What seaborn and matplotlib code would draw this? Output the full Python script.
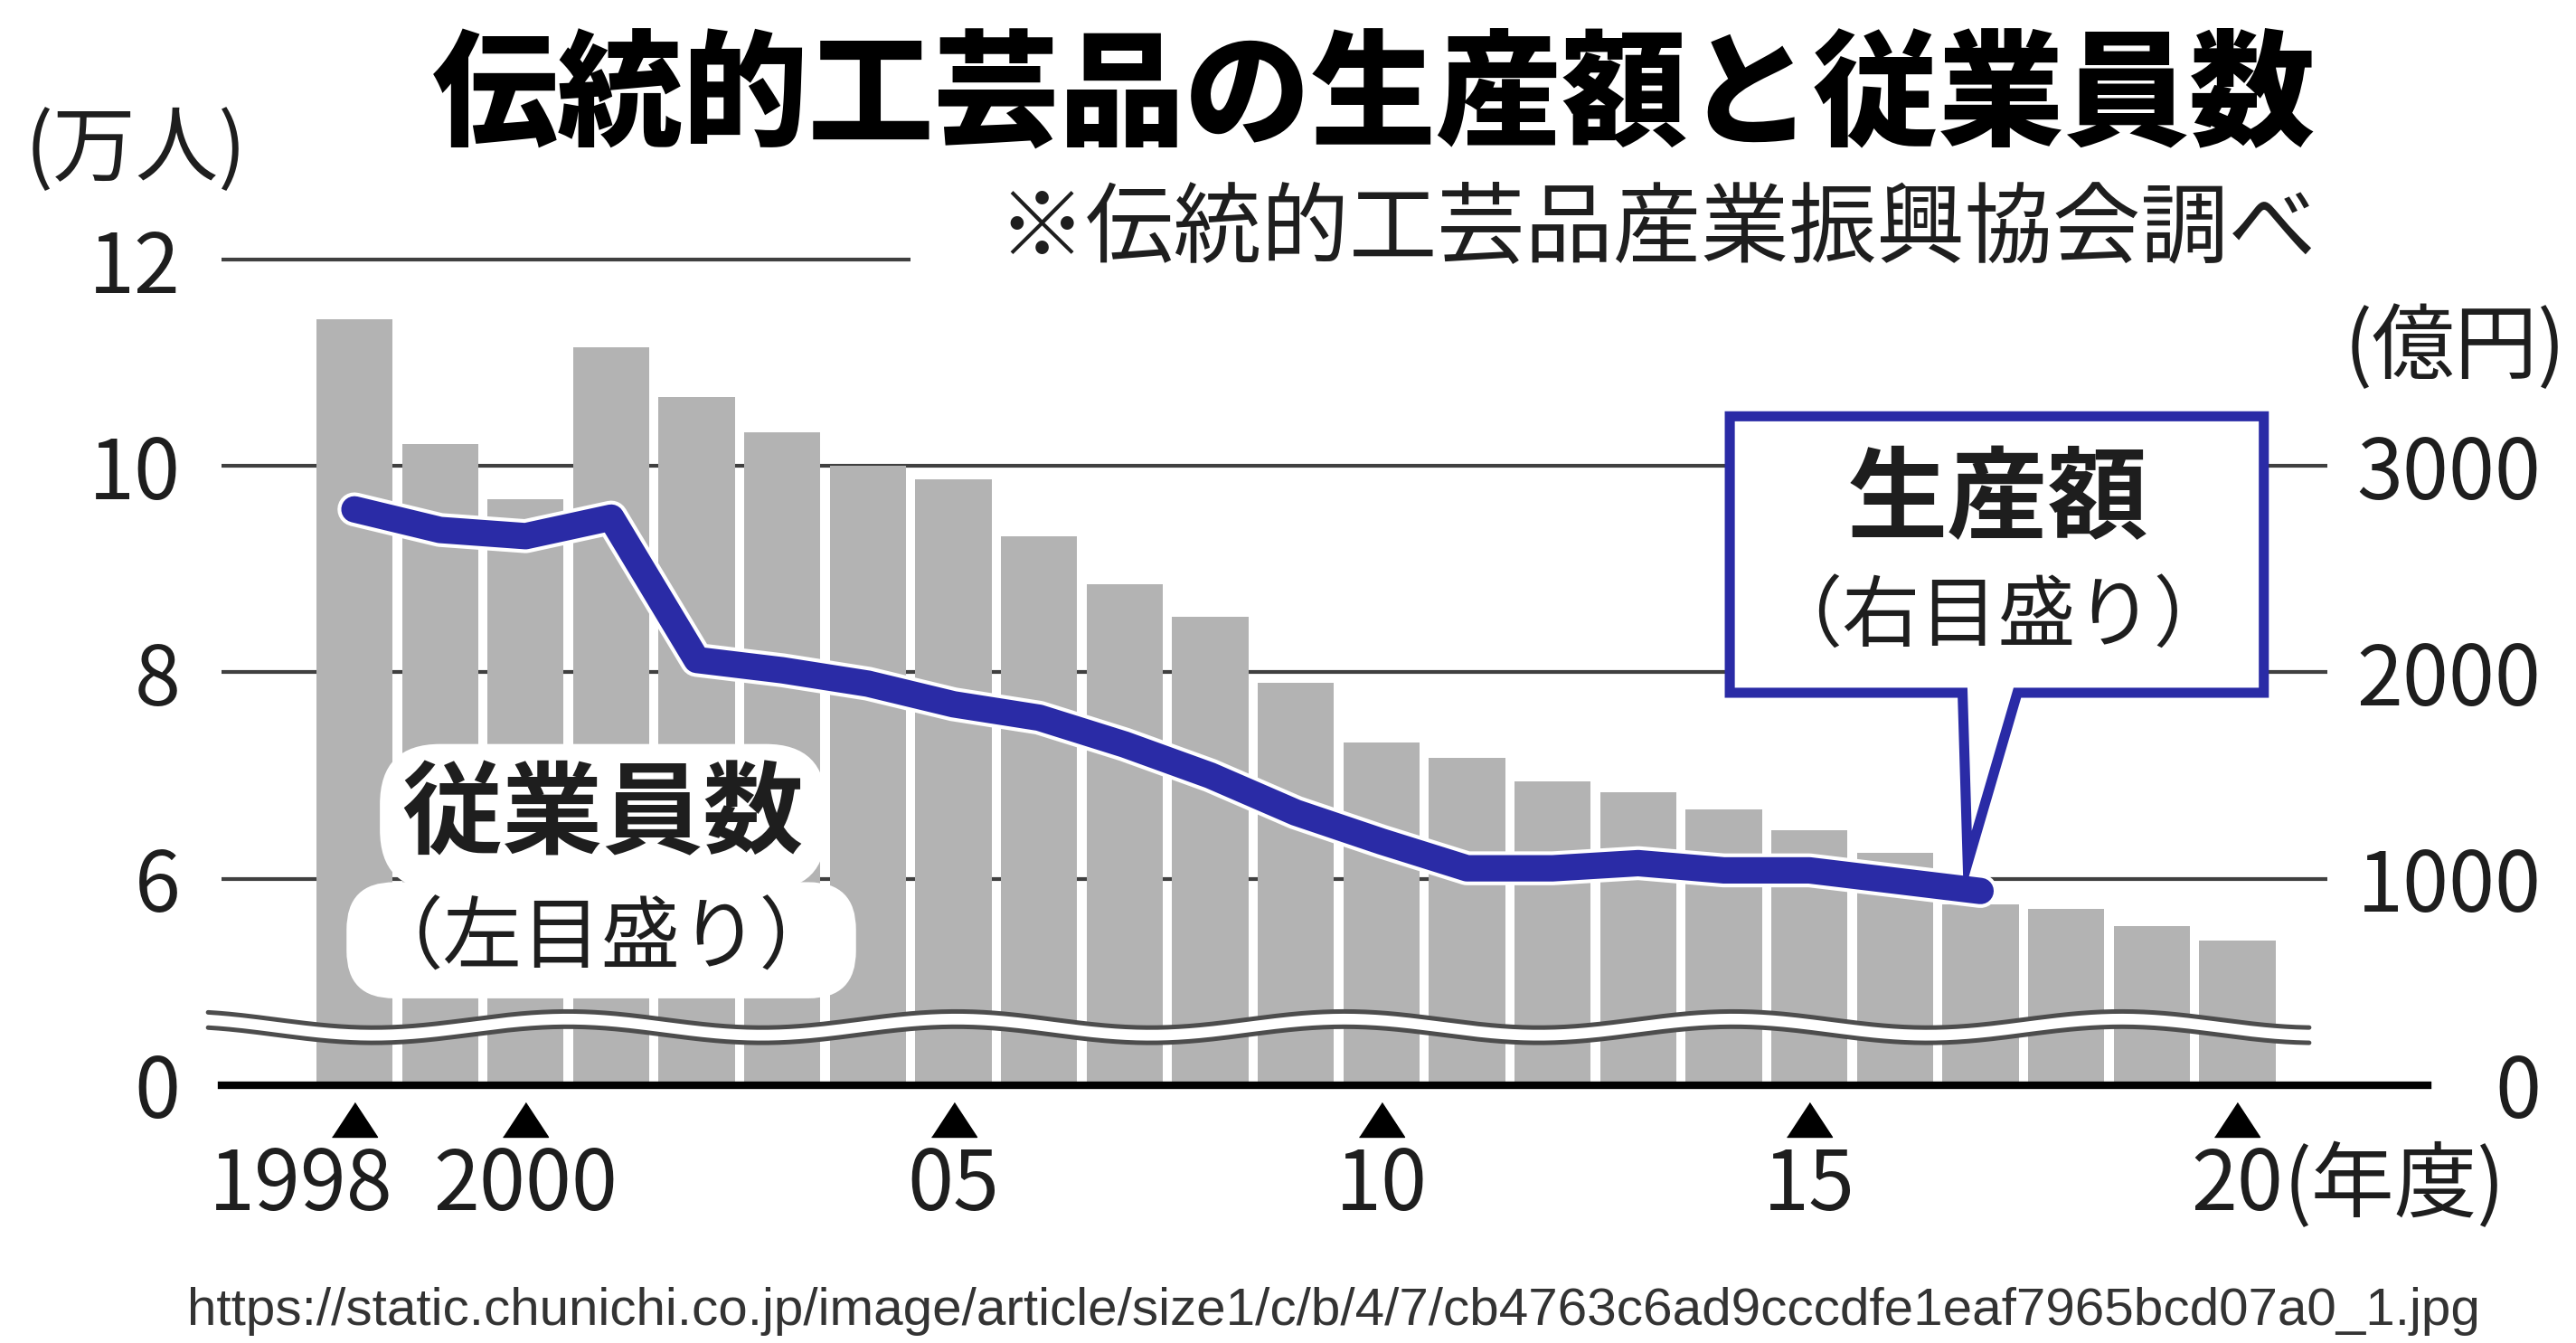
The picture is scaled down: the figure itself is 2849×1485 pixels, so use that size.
import numpy as np
import pandas as pd
import matplotlib
matplotlib.use("Agg")
import matplotlib.pyplot as plt
import matplotlib.patheffects as pe
from matplotlib.patches import Polygon
from matplotlib import font_manager
import seaborn as sns

# ---- data ----
years = list(range(1998, 2021))
# 従業員数（万人, 左目盛り）
employees = [11.42, 10.21, 9.68, 11.15, 10.67, 10.33, 10.00, 9.87, 9.32, 8.85,
             8.54, 7.90, 7.32, 7.17, 6.94, 6.84, 6.67, 6.47, 6.25, 5.75,
             5.71, 5.54, 5.40]
# 生産額（億円, 右目盛り）
prod_years = list(range(1998, 2018))
production = [2790, 2690, 2660, 2750, 2060, 2010, 1945, 1845, 1780, 1650,
              1500, 1320, 1180, 1050, 1050, 1075, 1040, 1040, 990, 940]

left_ticks = [0, 6, 8, 10, 12]
right_ticks = [0, 1000, 2000, 3000]
xtick_years = [1998, 2000, 2005, 2010, 2015, 2020]
xtick_labels = ["1998", "2000", "05", "10", "15", "20"]


def left_to_right(v):
    # left axis is broken between 0 and 6: 6->1000, 8->2000, 10->3000, 12->4000
    return 0 if v == 0 else (v - 4) * 500


BLUE = "#2a2ba6"
GRAY = "#b3b3b3"
GRID = "#404040"
INK = "#1e1e1e"

sns.set_theme(style="white")
JP = "Noto Sans CJK JP"
plt.rcParams["font.family"] = [JP, "DejaVu Sans"]
names = {f.name for f in font_manager.fontManager.ttflist}
NUM = "Liberation Sans Narrow" if "Liberation Sans Narrow" in names else JP
NUM_SIZE = 74 if NUM != JP else 66

# layout measured on a 1568x817 copy of the reference
W, H = 1568, 817
fig = plt.figure(figsize=(28.49, 14.85), dpi=100)
fig.patch.set_facecolor("white")
ax = fig.add_axes([135 / W, 1 - 660 / H, (1478 - 135) / W, (660 - 158) / H])

df = pd.DataFrame({"year": years, "emp": employees})
df["pos"] = [left_to_right(v) for v in df["emp"]]
sns.barplot(data=df, x="year", y="pos", native_scale=True, width=0.89,
            color=GRAY, saturation=1, errorbar=None, ax=ax, zorder=2,
            edgecolor="none", linewidth=0)

sns.lineplot(x=prod_years, y=production, ax=ax, color=BLUE, linewidth=21,
             solid_capstyle="round", solid_joinstyle="round", zorder=4,
             path_effects=[pe.Stroke(linewidth=27, foreground="white"), pe.Normal()])

x0, x1 = 1996.45, 2022.23
ax.set_xlim(x0, x1)
ax.set_ylim(0, 4000)
ax.set_xlabel("")
ax.set_ylabel("")
ax.set_xticks([])

# gridlines
ax.hlines(4000, x0, 2004.5, color=GRID, lw=3, zorder=1, clip_on=False)
ax.hlines([1000, 2000, 3000], x0, 2021.05, color=GRID, lw=3, zorder=1)

# wavy axis-break symbol
wx = np.linspace(1996.29, 2020.84, 800)
wave = 39 * np.cos(2 * np.pi * (wx - 2000.49) / 4.54)
top, bot = 280 + 37 + wave, 280 - 37 + wave
ax.fill_between(wx, bot, top, color="white", zorder=3, clip_on=False, lw=0)
ax.plot(wx, top, color="#4d4d4d", lw=3.6, zorder=3, clip_on=False)
ax.plot(wx, bot, color="#4d4d4d", lw=3.6, zorder=3, clip_on=False)

# spines
for s in ["left", "right", "top"]:
    ax.spines[s].set_visible(False)
ax.spines["bottom"].set_color("black")
ax.spines["bottom"].set_linewidth(6)
ax.spines["bottom"].set_zorder(5)

# left ticks
ax.set_yticks([left_to_right(v) for v in left_ticks])
ax.set_yticklabels([str(v) for v in left_ticks], fontsize=NUM_SIZE, family=NUM, color=INK)
ax.tick_params(axis="y", length=0, pad=33)

# right ticks
ax2 = ax.twinx()
ax2.set_ylim(0, 4000)
ax2.set_yticks(right_ticks)
ax2.set_yticklabels([str(v) for v in right_ticks], fontsize=NUM_SIZE, family=NUM, color=INK)
ax2.tick_params(axis="y", length=0, pad=90)
for tl in ax2.get_yticklabels():
    tl.set_horizontalalignment("right")
for s in ax2.spines.values():
    s.set_visible(False)
ax2.grid(False)

# x tick triangles and labels
tri = [(-1, -0.76), (1, -0.76), (0, 0.76)]
xt = ax.get_xaxis_transform()
ax.plot(xtick_years, [-0.042] * len(xtick_years), ls="none", marker=tri, ms=36,
        color="black", transform=xt, clip_on=False)
for yr, lab in zip(xtick_years, xtick_labels):
    if yr == 1998:
        ax.text(yr + 0.45, -0.1235, lab, transform=xt, ha="right", va="center",
                fontsize=NUM_SIZE, family=NUM, color=INK)
    else:
        ax.text(yr, -0.1235, lab, transform=xt, ha="center", va="center",
                fontsize=NUM_SIZE, family=NUM, color=INK)

# callout for production
box = [(2014.07, 3241), (2020.31, 3241), (2020.31, 1901), (2017.43, 1901),
       (2016.85, 1077), (2016.79, 1901), (2014.07, 1901)]
ax.add_patch(Polygon(box, closed=True, facecolor="white", edgecolor=BLUE,
                     lw=8, joinstyle="miter", zorder=6, clip_on=False))


def ft(x, y, s, **kw):
    return fig.text(x / W, 1 - y / H, s, **kw)


ft(1216, 305, "生産額", ha="center", va="center", fontsize=80, fontweight="bold",
   color=INK, zorder=7)
ft(1216, 376, "（右目盛り）", ha="center", va="center", fontsize=62, color=INK, zorder=7)

bub = dict(boxstyle="round,pad=0.22,rounding_size=0.6", facecolor="white", edgecolor="none")
ft(367, 497, "従業員数", ha="center", va="center", fontsize=80, fontweight="bold",
   color=INK, zorder=7, bbox=bub)
ft(366, 572, "（左目盛り）", ha="center", va="center", fontsize=63, color=INK,
   zorder=8, bbox=bub)

# titles and units
ft(836, 60, "伝統的工芸品の生産額と従業員数", ha="center", va="center",
   fontsize=100, fontweight="heavy", color="black")
ft(1410, 140, "※伝統的工芸品産業振興協会調べ", ha="right", va="center",
   fontsize=70, color=INK)
ft(15, 92, "(万人)", ha="left", va="center", fontsize=66, color=INK)
ft(1562, 212, "(億円)", ha="right", va="center", fontsize=66, color=INK)
ft(1390, 722, "(年度)", ha="left", va="center", fontsize=66, color=INK)
ft(812, 798, "https://static.chunichi.co.jp/image/article/size1/c/b/4/7/"
   "cb4763c6ad9cccdfe1eaf7965bcd07a0_1.jpg", ha="center", va="center",
   fontsize=42, family="Liberation Sans", color="#333333")

fig.savefig("out.png", dpi=100, facecolor="white")
